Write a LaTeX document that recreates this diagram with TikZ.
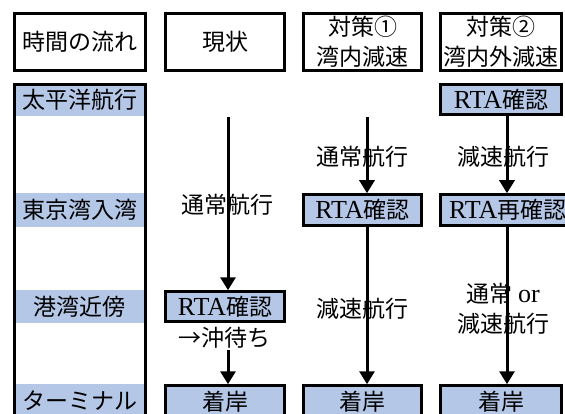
\documentclass[tikz,border=0pt]{standalone}
\usepackage{fontspec}
\setmainfont{Liberation Serif}
\newfontfamily\cjk{Noto Sans CJK JP}
\newcommand{\latn}[1]{{\fontsize{26}{30}\selectfont #1}}
\usetikzlibrary{arrows.meta}
\definecolor{bandblue}{HTML}{B4C7E7}
\begin{document}
\begin{tikzpicture}[x=1pt,y=-1pt,
  every node/.style={font=\fontsize{23}{30}\selectfont, inner sep=0pt, align=center},
  hdr/.style={draw, line width=2.5pt, fill=white},
  bbox/.style={draw, line width=2.5pt, fill=bandblue},
  band/.style={fill=bandblue},
  frame/.style={draw, line width=2.5pt},
  arr/.style={line width=3pt, -{Triangle[width=15pt,length=13pt]}}]
\useasboundingbox (0,0) rectangle (565,414);
\clip (0,0) rectangle (565,414);
\fill[white] (0,0) rectangle (565,414);

% headers
\node[hdr, minimum width=131, minimum height=57] (h1) at (80,42) {\cjk 時間の流れ};
\node[hdr, minimum width=119, minimum height=57] (h2) at (225,42) {\cjk 現状};
\node[hdr, minimum width=118, minimum height=57] (h3) at (362.5,42) {\cjk 対策①\\\cjk 湾内減速};
\node[hdr, minimum width=121, minimum height=57] (h4) at (501,42) {\cjk 対策②\\\cjk 湾内外減速};

% time column bands
\node[band, minimum width=131, minimum height=32] (b1) at (80,100) {\cjk 太平洋航行};
\node[band, minimum width=131, minimum height=34] (b2) at (80,210) {\cjk 東京湾入湾};
\node[band, minimum width=131, minimum height=33] (b3) at (80,306.5) {\cjk 港湾近傍};
\node[band, minimum width=131, minimum height=40] (b4) at (80,404) {};
\node (b4t) at (80,401) {\cjk ターミナル};
\draw[frame] (14.5,84.5) rectangle (145.5,440);

% boxes
\node[bbox, minimum width=119, minimum height=30] (c2rta) at (225,306.5) {\latn{RTA}\cjk 確認};
\node[bbox, minimum width=119, minimum height=32] (c2end) at (225,401.5) {\cjk 着岸};
\node[bbox, minimum width=118, minimum height=31] (c3rta) at (362.5,210) {\latn{RTA}\cjk 確認};
\node[bbox, minimum width=118, minimum height=32] (c3end) at (362.5,401.5) {\cjk 着岸};
\node[bbox, minimum width=121, minimum height=30] (c4rta) at (501,99.5) {\latn{RTA}\cjk 確認};
\node[bbox, minimum width=134.5, minimum height=31] (c4re) at (507.75,210) {\latn{RTA}\cjk 再確認};
\node[bbox, minimum width=121, minimum height=32] (c4end) at (501,401.5) {\cjk 着岸};

% arrow positions
\coordinate (c2s) at (228,117);
\coordinate (c3s) at (367,117);
\coordinate (c4x) at (507,100);
\node (c2wait) at (224,338) {\cjk →沖待ち};
\coordinate (c2m) at (228,350);

\draw[arr] (c2s) -- (c2s |- c2rta.north);
\draw[arr] (c2m) -- (c2m |- c2end.north);
\draw[arr] (c3s) -- (c3s |- c3rta.north);
\draw[arr] (c3rta.south -| c3s) -- (c3s |- c3end.north);
\draw[arr] (c4rta.south -| c4x) -- (c4x |- c4re.north);
\draw[arr] (c4re.south -| c4x) -- (c4x |- c4end.north);

% labels
\node (l1) at (227,205) {\cjk 通常航行};
\node (l2) at (362,157) {\cjk 通常航行};
\node (l3) at (362,309) {\cjk 減速航行};
\node (l4) at (503,157) {\cjk 減速航行};
\node (l5) at (503,309) {{\cjk 通常} \latn{or}\\\cjk 減速航行};
\end{tikzpicture}
\end{document}
